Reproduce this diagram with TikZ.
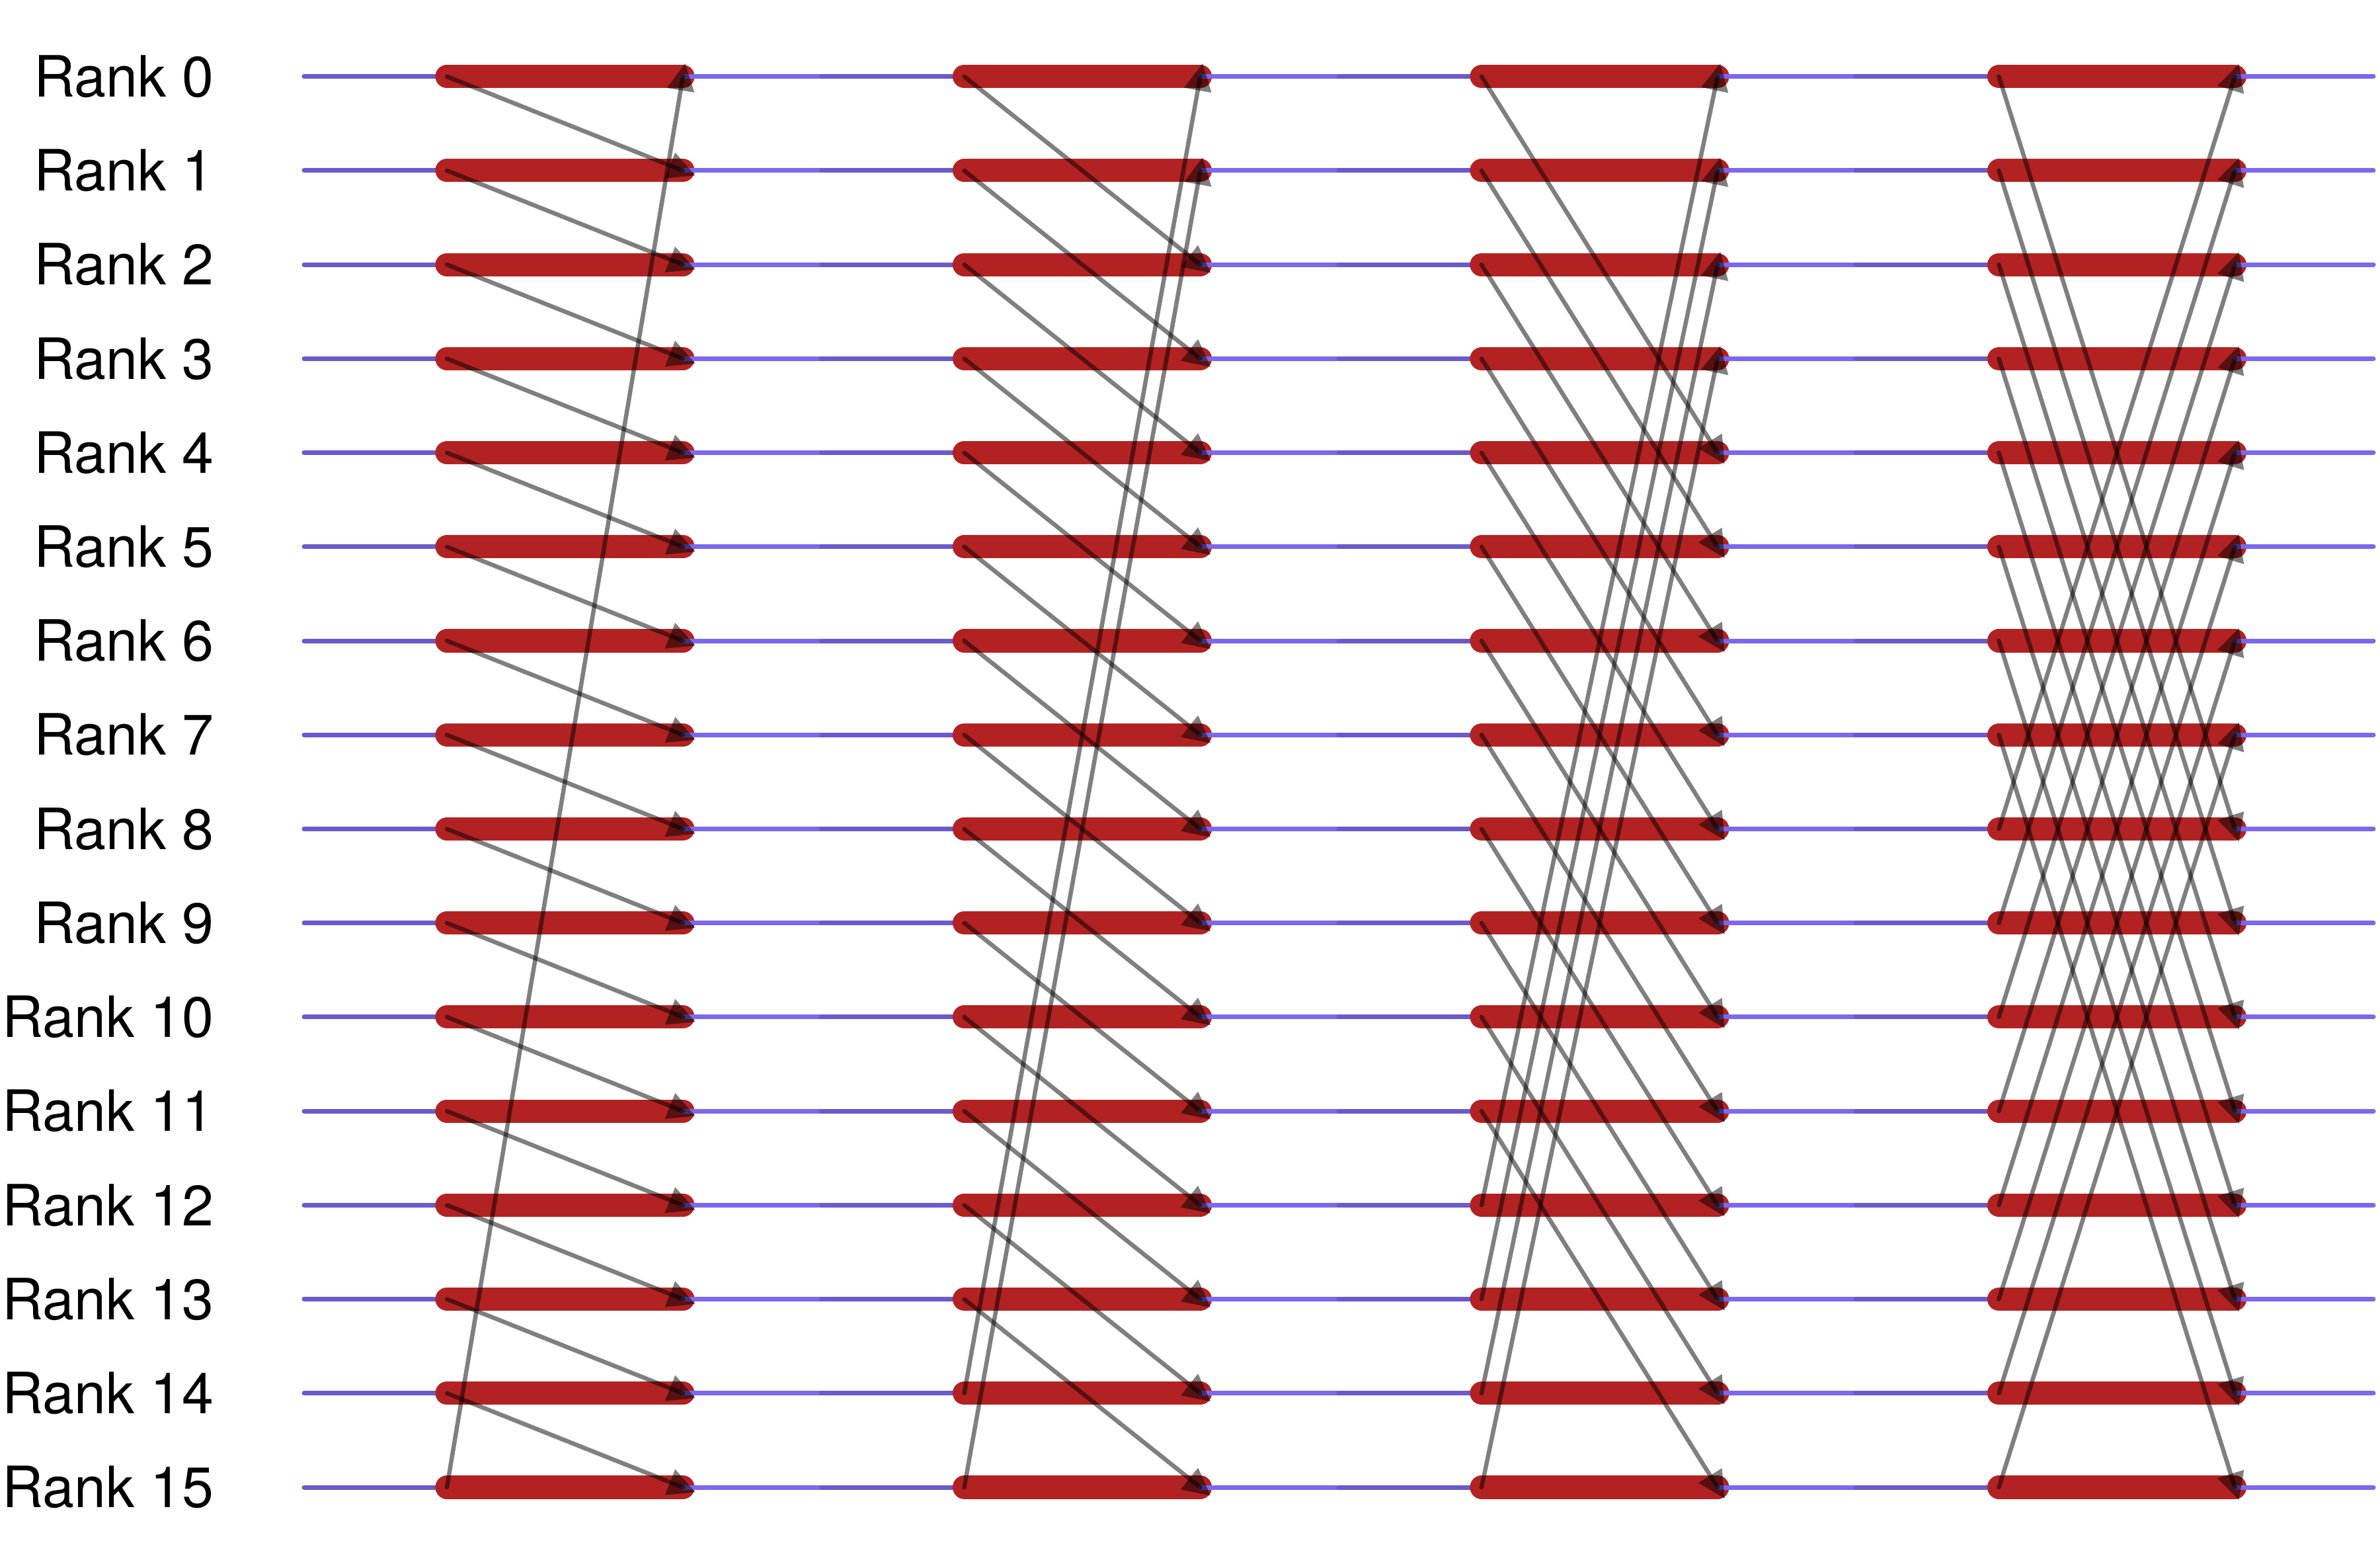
\documentclass[tikz,border=0pt]{standalone}
\usepackage{fontspec}
\setmainfont{TeX Gyre Heros}
\usepackage{tikz}
\usetikzlibrary{calc}

\definecolor{waitc}{RGB}{106,90,205}
\definecolor{donec}{RGB}{123,104,238}
\definecolor{busyc}{RGB}{178,34,34}

\begin{document}
\begin{tikzpicture}[font=\fontsize{24.5}{29}\selectfont,
  rank/.style={anchor=east, inner sep=0pt},
  wait/.style={draw=waitc, line width=2pt, line cap=round},
  done/.style={draw=donec, line width=2pt, line cap=round},
  busy/.style={draw=busyc, line width=10pt, line cap=round},
  msg/.style={line width=1.85pt, black, opacity=0.5, line cap=round},
  head/.style={fill=black, opacity=0.5}]
\useasboundingbox (0,0) rectangle (36,-23.65);
% one timeline per rank: wait, work, done for each of the 4 rounds
\foreach \i in {0,...,15} {
  \pgfmathsetmacro{\y}{-1.157-1.4222*\i}
  \node[rank] (r\i) at (3.24,\y) {Rank \i};
  \foreach \k in {0,...,3} {
    \pgfmathsetmacro{\x}{4.6+7.825*\k}
    \coordinate (a\k-\i) at (\x,\y);
    \coordinate (s\k-\i) at (\x+2.16,\y);
    \coordinate (e\k-\i) at (\x+5.73,\y);
    \coordinate (b\k-\i) at (\x+7.825,\y);
    \draw[wait] (a\k-\i) -- (s\k-\i);
    \draw[busy] (s\k-\i) -- (e\k-\i);
    \draw[done] (e\k-\i) -- (b\k-\i);
  }
}
% messages, the distance doubles every round
\foreach \k/\d in {0/1,1/2,2/4,3/8} {
  \foreach \i in {0,...,15} {
    \pgfmathtruncatemacro{\j}{mod(\i+\d,16)}
    \draw[msg] (s\k-\i) -- (e\k-\j);
    \coordinate (h) at ($(e\k-\j)!2.1mm!(s\k-\i)$);
    \coordinate (t) at ($(e\k-\j)!-2mm!(s\k-\i)$);
    \fill[head] (t) -- ($(h)!2.1mm!90:(t)$) -- ($(h)!2.1mm!-90:(t)$) -- cycle;
  }
}
\end{tikzpicture}
\end{document}
